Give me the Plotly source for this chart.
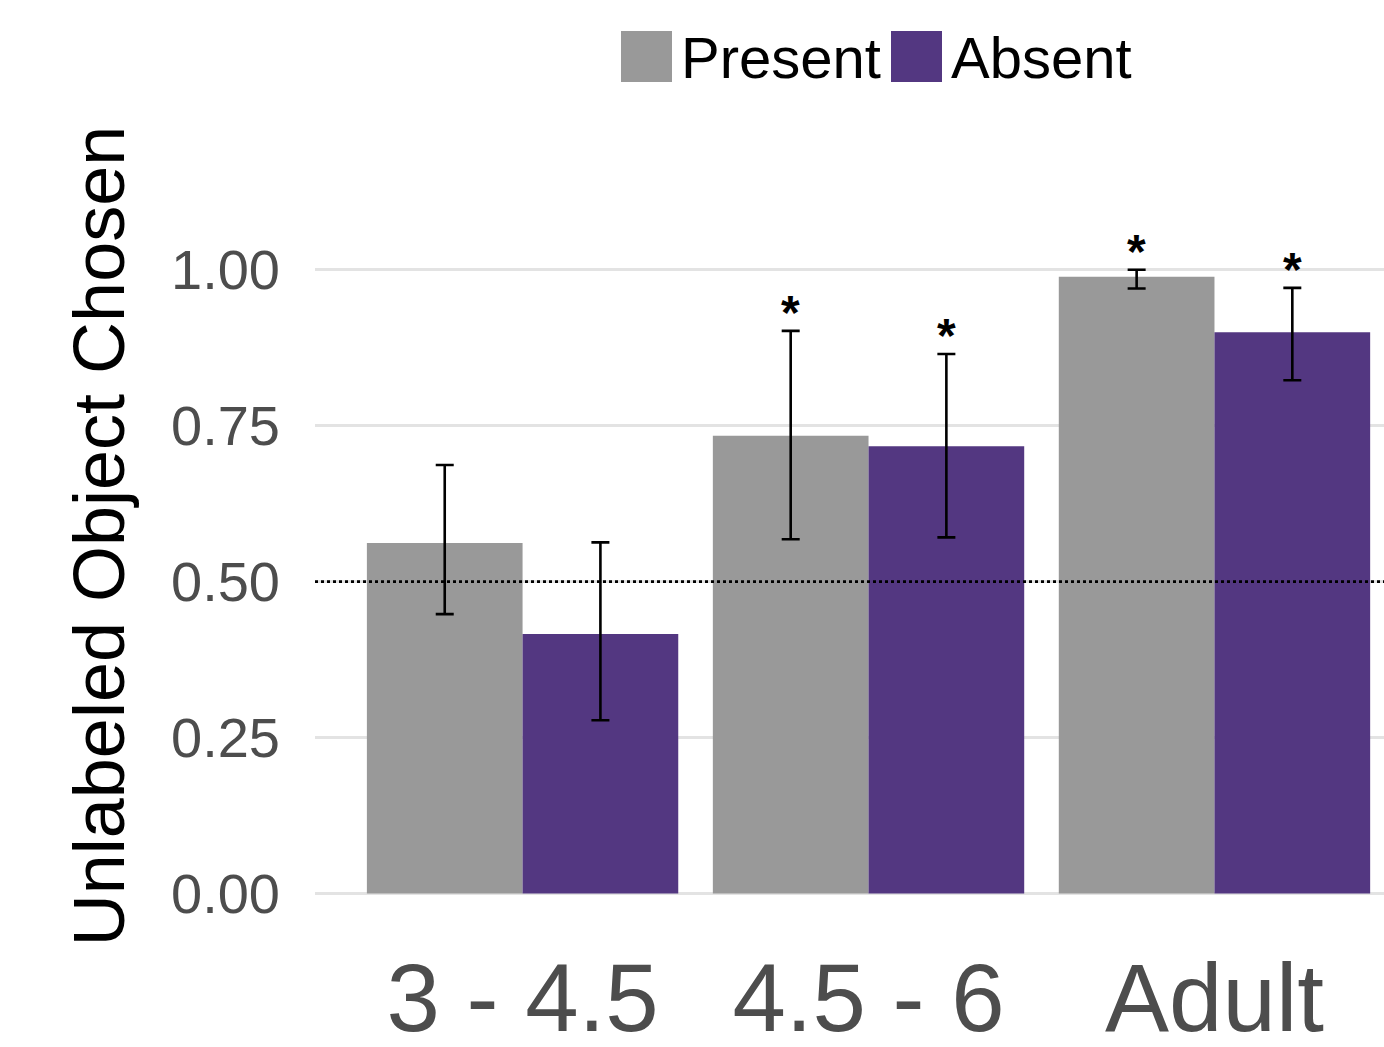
import plotly.graph_objects as go

categories = ["3 - 4.5", "4.5 - 6", "Adult"]
present_mean = [0.562, 0.734, 0.989]
present_lower = [0.448, 0.568, 0.970]
present_upper = [0.687, 0.902, 1.000]
absent_mean = [0.416, 0.717, 0.900]
absent_lower = [0.278, 0.571, 0.823]
absent_upper = [0.563, 0.865, 0.971]
present_sig = ["", "*", "*"]
absent_sig = ["", "*", "*"]
chance = 0.5
y_ticks = [0, 0.25, 0.5, 0.75, 1.0]
y_ticktext = ["0.00", "0.25", "0.50", "0.75", "1.00"]

GRAY = "#999999"
PURPLE = "#533781"
FONT = "Liberation Sans, Arial, Helvetica, sans-serif"

W, H = 1384, 1047
ML, MR, MT, MB = 315, 0, 145, 120

def px_to_paper_x(px):
    return (px - ML) / (W - ML - MR)

def px_to_paper_y(py):
    return (H - MB - py) / (H - MT - MB)

fig = go.Figure()
for name, mean, lo, up, color in [
    ("Present", present_mean, present_lower, present_upper, GRAY),
    ("Absent", absent_mean, absent_lower, absent_upper, PURPLE),
]:
    fig.add_trace(go.Bar(
        name=name, x=categories, y=mean, marker=dict(color=color, line=dict(width=0)),
        error_y=dict(type="data", symmetric=False,
                     array=[u - m for u, m in zip(up, mean)],
                     arrayminus=[m - l for m, l in zip(mean, lo)],
                     color="black", thickness=2.6, width=9),
        showlegend=False,
    ))

annotations = []
offset = 0.225
for i in range(len(categories)):
    for sig, up, dx in [(present_sig[i], present_upper[i], -offset), (absent_sig[i], absent_upper[i], offset)]:
        if sig:
            annotations.append(dict(x=i + dx, y=up, xref="x", yref="y", text="<b>" + sig + "</b>",
                                    showarrow=False, yanchor="bottom", yshift=-10,
                                    font=dict(size=48, color="black", family=FONT)))

# legend (manual)
legend_items = [("Present", GRAY, 621), ("Absent", PURPLE, 891)]
shapes = []
for label, color, x0 in legend_items:
    shapes.append(dict(type="rect", xref="paper", yref="paper",
                       x0=px_to_paper_x(x0), x1=px_to_paper_x(x0 + 51),
                       y0=px_to_paper_y(82), y1=px_to_paper_y(31),
                       fillcolor=color, line=dict(width=0)))
    annotations.append(dict(x=px_to_paper_x(x0 + 58), y=px_to_paper_y(57), xref="paper", yref="paper",
                            text=label, showarrow=False, xanchor="left", yanchor="middle",
                            font=dict(size=58, color="black", family=FONT)))

shapes.append(dict(type="line", xref="paper", yref="y", x0=0, x1=1, y0=chance, y1=chance,
                   line=dict(color="black", width=2.8, dash="dot"), layer="above"))

fig.update_layout(
    width=W, height=H,
    margin=dict(l=ML, r=MR, t=MT, b=MB, pad=0, autoexpand=False),
    paper_bgcolor="white", plot_bgcolor="white",
    barmode="group", bargap=0.1, bargroupgap=0,
    font=dict(family=FONT),
    shapes=shapes, annotations=annotations,
    xaxis=dict(range=[-0.6, 2.49], showgrid=False, zeroline=False, showline=False,
               automargin=False,
               ticks="", tickfont=dict(size=96, color="#4D4D4D", family=FONT),
               ticklabelstandoff=7),
    yaxis=dict(range=[-0.0535, 1.2], tickvals=y_ticks, ticktext=y_ticktext,
               automargin=False,
               showgrid=True, gridcolor="#E3E3E3", gridwidth=2.5, zeroline=False,
               showline=False, ticks="", ticklabelstandoff=34,
               tickfont=dict(size=56, color="#4D4D4D", family=FONT),
               title=dict(text="Unlabeled Object Chosen", standoff=22,
                          font=dict(size=72, color="black", family=FONT))),
)

fig.write_html("out.html")
